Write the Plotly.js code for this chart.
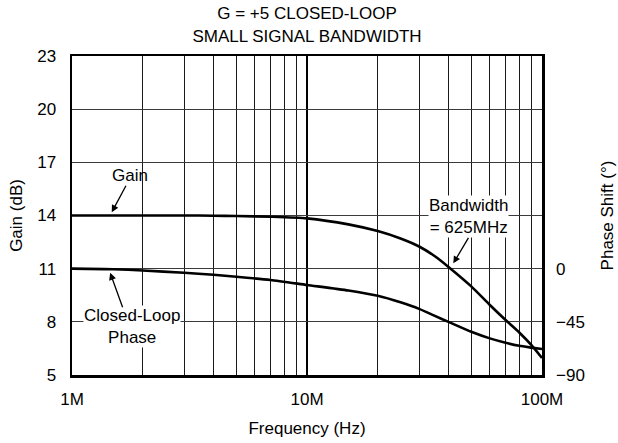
<!DOCTYPE html>
<html>
<head>
<meta charset="utf-8">
<script src="https://cdn.plot.ly/plotly-3.0.1.min.js"></script>
<style>
  html, body { margin: 0; padding: 0; background: #fff; }
  #chart { width: 618px; height: 443px; }
</style>
</head>
<body>
<div id="chart"></div>
<script>
// ---- data ----
const freqHz   = [1e6, 1.5e6, 2e6, 3e6, 4e6, 5e6, 7e6, 10e6, 15e6, 20e6, 25e6, 30e6, 35e6, 40e6, 50e6, 60e6, 70e6, 80e6, 90e6, 100e6];
const gainDb   = [14.0, 14.0, 14.0, 14.0, 13.99, 13.97, 13.93, 13.84, 13.5, 13.12, 12.7, 12.25, 11.7, 11.1, 10.0, 8.95, 8.1, 7.4, 6.7, 5.96];
const phaseDeg = [0, -0.5, -1.5, -3.5, -5.2, -6.8, -9.6, -13.8, -18.5, -23, -28.5, -34, -40, -45, -53.4, -59, -62.7, -65.3, -66.8, -68];

const xTickVals = [1e6, 1e7, 1e8];
const xTickText = ['1M', '10M', '100M'];
const gainTicks = [5, 8, 11, 14, 17, 20, 23];
const phaseTicks = [-90, -45, 0];

const FONT = 'Liberation Sans, Arial, Helvetica, sans-serif';
const fs = 17;

const traces = [
  { x: freqHz, y: gainDb, type: 'scatter', mode: 'lines', name: 'Gain',
    line: { color: '#000', width: 2.6, shape: 'spline', smoothing: 0.6 }, yaxis: 'y' },
  { x: freqHz, y: phaseDeg, type: 'scatter', mode: 'lines', name: 'Closed-Loop Phase',
    line: { color: '#000', width: 2.6, shape: 'spline', smoothing: 0.6 }, yaxis: 'y2' }
];

const lx = v => Math.log10(v);

const annotations = [
  // Gain label + arrow
  { x: lx(1.76e6), y: 16.23, xref: 'x', yref: 'y', text: 'Gain', showarrow: false,
    font: { family: FONT, size: fs, color: '#000' } },
  { x: lx(1.476e6), y: 14.18, xref: 'x', yref: 'y', text: '', showarrow: true,
    ax: 15, ay: -28, arrowhead: 2, arrowsize: 1.1, arrowwidth: 1.3, arrowcolor: '#000' },
  // Closed-Loop Phase label + arrow
  { x: lx(1.795e6), y: 7.74, xref: 'x', yref: 'y', text: 'Closed-Loop<br>Phase', showarrow: false,
    bgcolor: '#fff', borderpad: 0, font: { family: FONT, size: fs, color: '#000' } },
  { x: lx(1.453e6), y: 10.77, xref: 'x', yref: 'y', text: '', showarrow: true,
    ax: 13, ay: 36, arrowhead: 2, arrowsize: 1.1, arrowwidth: 1.3, arrowcolor: '#000' },
  // Bandwidth label + arrow
  { x: lx(48.8e6), y: 13.92, xref: 'x', yref: 'y', text: 'Bandwidth<br>= 625MHz', showarrow: false,
    bgcolor: '#fff', borderpad: 0, font: { family: FONT, size: fs, color: '#000' } },
  { x: lx(41.94e6), y: 11.30, xref: 'x', yref: 'y', text: '', showarrow: true,
    ax: 16, ay: -27, arrowhead: 2, arrowsize: 1.1, arrowwidth: 1.3, arrowcolor: '#000' }
];

const layout = {
  width: 618, height: 443,
  margin: { l: 72, r: 76, t: 56, b: 68, pad: 0 },
  paper_bgcolor: '#fff', plot_bgcolor: '#fff',
  showlegend: false,
  font: { family: FONT, size: fs, color: '#000' },
  title: { text: 'G = +5 CLOSED-LOOP<br>SMALL SIGNAL BANDWIDTH',
           x: 0.5, xref: 'paper', xanchor: 'center',
           y: 0.956, yref: 'container', yanchor: 'top',
           font: { family: FONT, size: fs, color: '#000' } },
  xaxis: {
    type: 'log', range: [6, 8], tickvals: xTickVals, ticktext: xTickText,
    showgrid: true, gridcolor: '#000', gridwidth: 2.5,
    minor: { dtick: 'D1', showgrid: true, gridcolor: '#1a1a1a', gridwidth: 1, ticks: '' },
    showline: true, linecolor: '#000', linewidth: 2.5, mirror: true,
    ticks: '', zeroline: false, ticklabelstandoff: 7,
    tickfont: { family: FONT, size: fs, color: '#000' },
    title: { text: 'Frequency (Hz)', font: { family: FONT, size: fs, color: '#000' }, standoff: 14 }
  },
  yaxis: {
    range: [5, 23], tickvals: gainTicks,
    showgrid: true, gridcolor: '#3a3a3a', gridwidth: 1,
    showline: true, linecolor: '#000', linewidth: 2.5, mirror: true,
    ticks: '', zeroline: false, ticklabelstandoff: 10,
    tickfont: { family: FONT, size: fs, color: '#000' },
    title: { text: 'Gain (dB)', font: { family: FONT, size: fs, color: '#000' }, standoff: 10 }
  },
  yaxis2: {
    overlaying: 'y', side: 'right', range: [-90, 180], tickvals: phaseTicks,
    showgrid: false, zeroline: false, showline: false, ticks: '', ticklabelstandoff: 13,
    tickfont: { family: FONT, size: fs, color: '#000' },
    title: { text: 'Phase Shift (°)', font: { family: FONT, size: fs, color: '#000' }, standoff: 17 }
  },
  annotations: annotations
};

Plotly.newPlot('chart', traces, layout, { displayModeBar: false, staticPlot: true });
</script>
</body>
</html>
